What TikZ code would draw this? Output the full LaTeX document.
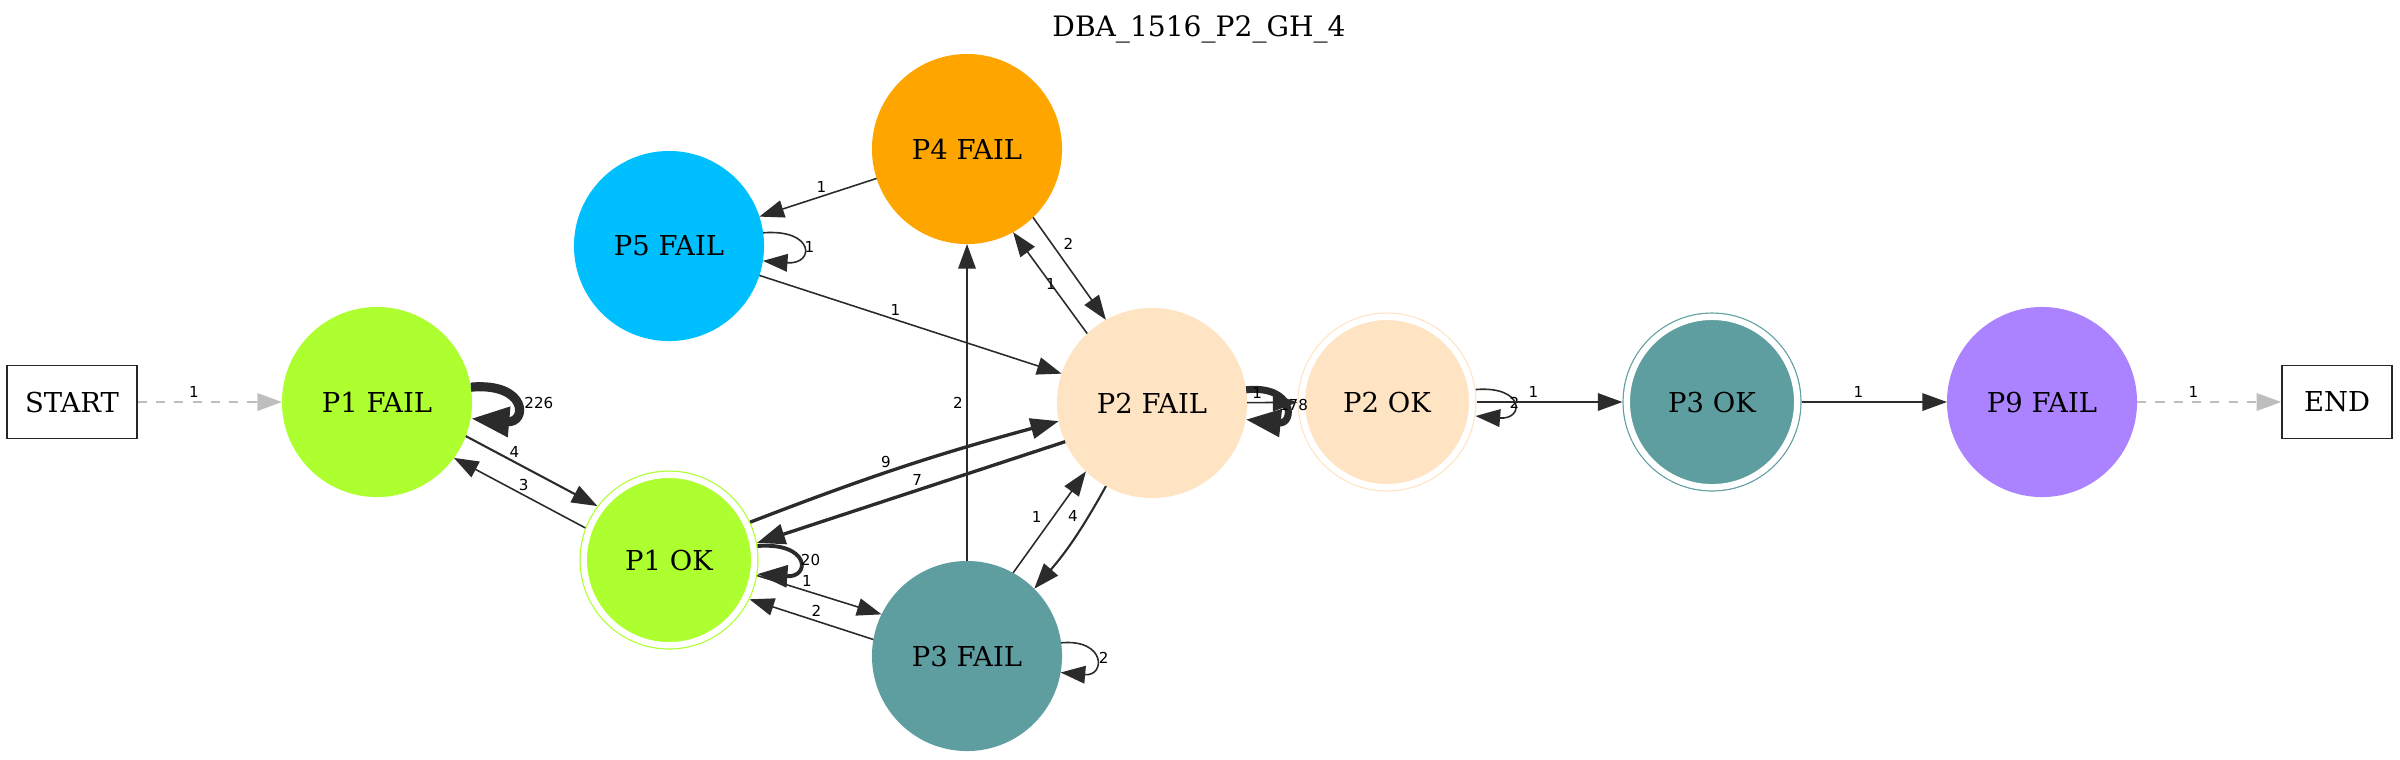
\documentclass[tikz,border=0pt]{standalone}
\usepackage{fontspec}
\setmainfont{DejaVu Serif}
\newfontfamily\lblfont{DejaVu Sans}
\usetikzlibrary{arrows.meta}

\definecolor{pone}{HTML}{ADFF2F}
\definecolor{ptwo}{HTML}{FFE4C4}
\definecolor{pthree}{HTML}{5F9EA0}
\definecolor{pfour}{HTML}{FFA500}
\definecolor{pfive}{HTML}{00BFFF}
\definecolor{pnine}{HTML}{AB82FF}
\definecolor{edgecol}{HTML}{2B2B2B}
\definecolor{dashcol}{HTML}{BEBEBE}

\begin{document}
\begin{tikzpicture}[
  x=0.01cm, y=-0.01cm,
  fail/.style={circle, fill=#1, minimum size=1.9cm, inner sep=0pt, outer sep=0pt,
               font=\fontsize{7.8}{9}\selectfont},
  okst/.style={circle, fill=#1, draw=#1, line width=0.012cm, double=white,
               double distance=0.063cm, minimum size=1.703cm, inner sep=0pt,
               outer sep=0.044cm, font=\fontsize{7.8}{9}\selectfont},
  term/.style={rectangle, draw=black!85, line width=0.4pt, minimum width=1.3cm,
               minimum height=0.73cm, inner sep=0pt, font=\fontsize{7.8}{9}\selectfont},
  lbl/.style={font=\lblfont\fontsize{4.3}{5}\selectfont, inner sep=1pt},
  arr/.style={draw=edgecol, line width=0.45pt, -{Triangle[length=7pt, width=5pt]}},
  marr/.style={draw=edgecol, line width=0.6pt, -{Triangle[length=7.3pt, width=5.2pt]}},
  tarr/.style={draw=edgecol, line width=0.95pt, -{Triangle[length=8pt, width=5.8pt]}},
  darr/.style={draw=dashcol, line width=0.45pt, dash pattern=on 2.6pt off 2.6pt,
               -{Triangle[length=7pt, width=5pt]}},
  lpmid/.style={draw=edgecol, line width=1.1pt, -{Triangle[length=8.5pt, width=6.2pt]}},
  lpbig/.style={draw=edgecol, line width=2pt, -{Triangle[length=10pt, width=7.5pt]}},
  lphuge/.style={draw=edgecol, line width=2.6pt, -{Triangle[length=11pt, width=8pt]}}
]
\useasboundingbox (0,0) rectangle (2400,759);

\node[font=\fontsize{8}{10}\selectfont] (title) at (1199,29) {DBA\_1516\_P2\_GH\_4};

\node[term] (startn) at (72,402) {START};
\node[fail=pone] (p1fail) at (377,402) {P1 FAIL};
\node[okst=pone] (p1ok) at (669,560) {P1 OK};
\node[fail=pfive] (p5fail) at (669,246) {P5 FAIL};
\node[fail=pfour] (p4fail) at (967,149) {P4 FAIL};
\node[fail=pthree] (p3fail) at (967,656) {P3 FAIL};
\node[fail=ptwo] (p2fail) at (1152,403) {P2 FAIL};
\node[okst=ptwo] (p2ok) at (1387,402) {P2 OK};
\node[okst=pthree] (p3ok) at (1712,402) {P3 OK};
\node[fail=pnine] (p9fail) at (2042,402) {P9 FAIL};
\node[term, minimum width=1.1cm] (endn) at (2337,402) {END};

% entry and exit
\draw[darr] (startn) -- node[lbl, pos=.39, above]{1} (p1fail);
\draw[darr] (p9fail) -- node[lbl, pos=.39, above]{1} (endn);

% self loops
\draw[lphuge] (p1fail.9) .. controls +(57,-5) and +(57,5) .. (p1fail.-10)
  node[lbl, pos=.5, right=0.8pt]{226};
\draw[lpmid] (p1ok.9) .. controls +(53,-4) and +(53,4) .. (p1ok.-9)
  node[lbl, pos=.5, right=-0.5pt]{20};
\draw[arr] (p5fail.8) .. controls +(52,-4) and +(52,4) .. (p5fail.-9)
  node[lbl, pos=.5, right=-0.5pt]{1};
\draw[arr] (p3fail.8) .. controls +(45,-4) and +(45,4) .. (p3fail.-10)
  node[lbl, pos=.5, right=0pt]{2};
\draw[lpbig] (p2fail.8) .. controls +(49,-5) and +(49,5) .. (p2fail.-10)
  node[lbl, pos=.5, right=-3pt]{178};
\draw[arr] (p2ok.8) .. controls +(49,-4) and +(49,4) .. (p2ok.-9)
  node[lbl, pos=.5, right=-2pt]{2};

% P1 block
\draw[marr] (p1fail.-21) -- node[lbl, pos=.37, above]{4} (p1ok.143);
\draw[arr] (p1ok.159) -- node[lbl, pos=.47, above]{3} (p1fail.-36);
\draw[tarr] (p1ok.25) to[bend left=3] node[lbl, pos=.44, above]{9} (p2fail.191);
\draw[tarr] (p2fail.204) -- node[lbl, pos=.48, above]{7} (p1ok.11);
\draw[arr] (p1ok.-10) -- node[lbl, pos=.4, above]{1} (p3fail.154);
\draw[arr] (p3fail.170) -- node[lbl, pos=.46, above]{2} (p1ok.-26);

% P3 / P4 / P5 block
\draw[arr] (p3fail) -- node[lbl, pos=.5, left]{2} (p4fail);
\draw[arr] (p4fail) -- node[lbl, pos=.47, above]{1} (p5fail);
\draw[arr] (p5fail) -- node[lbl, pos=.45, above]{1} (p2fail);
\draw[arr] (p4fail.-46) -- node[lbl, pos=.36, above right=0pt]{2} (p2fail.119);
\draw[arr] (p2fail.133) -- node[lbl, pos=.49]{1} (p4fail.-61);
\draw[arr] (p3fail.61) -- node[lbl, pos=.45, above left=0pt]{1} (p2fail.226);
\draw[marr] (p2fail.241) to[bend left=6] node[lbl, pos=.36, above left=0pt]{4} (p3fail.45);

% right chain
\draw[arr] (p2fail) -- node[lbl, pos=.2, above]{1} (p2ok);
\draw[arr] (p2ok) -- node[lbl, pos=.39, above]{1} (p3ok);
\draw[arr] (p3ok) -- node[lbl, pos=.39, above]{1} (p9fail);

\end{tikzpicture}
\end{document}
